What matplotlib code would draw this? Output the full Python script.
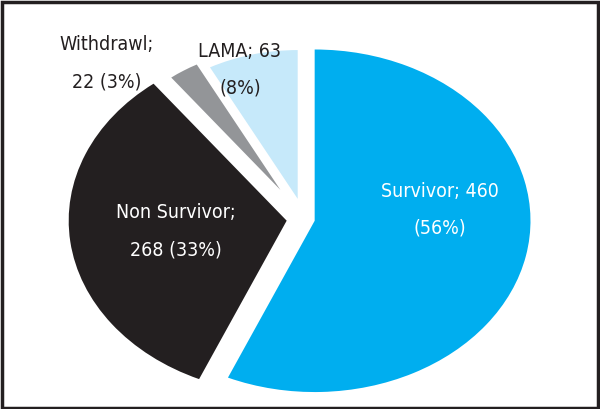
import matplotlib
matplotlib.use("Agg")
import matplotlib.pyplot as plt
from matplotlib.patches import Rectangle

categories = ["Survivor", "Non Survivor", "Withdrawl", "LAMA"]
counts = [460, 268, 22, 63]
percents = [56, 33, 3, 8]
label_texts = ["Survivor; 460\n(56%)", "Non Survivor;\n268 (33%)",
               "Withdrawl;\n22 (3%)", "LAMA; 63\n(8%)"]

colors = ["#00AEEF", "#231F20", "#939598", "#C6E9FA"]
explode = [0.05, 0.08, 0.20, 0.12]
radii = [0.99, 1.0, 0.82, 0.86]

plt.rcParams['font.family'] = ['DejaVu Sans']

W, H = 600, 409
fig = plt.figure(figsize=(W / 100, H / 100), dpi=100)
ax = fig.add_axes([0, 0, 1, 1])

wedges, _ = ax.pie(counts, colors=colors, explode=explode, startangle=90,
                   counterclock=False, radius=1.0,
                   wedgeprops=dict(linewidth=0))
for w, r in zip(wedges, radii):
    w.set_radius(r)
ax.set_aspect('auto')

cx, cy, rx, ry = 304, 219, 218, 173
ax.set_xlim(-cx / rx, (W - cx) / rx)
ax.set_ylim(-(H - cy) / ry, cy / ry)
ax.axis('off')

def px(x, y):
    return ((x - cx) / rx, (cy - y) / ry)

fs = 14
ls = 2.2
pos = [(440, 210), (176, 231), (107, 63), (240, 70)]
tcol = ["white", "white", "#231F20", "#231F20"]
for t, p, c in zip(label_texts, pos, tcol):
    x, y = px(*p)
    ax.text(x, y, t, ha='center', va='center', color=c, fontsize=fs,
            linespacing=ls, fontstretch='condensed')

fig.patches.append(Rectangle((1.5 / W, 1.5 / H), 1 - 3.5 / W, 1 - 3.5 / H,
                             transform=fig.transFigure, fill=False,
                             edgecolor="#231F20", linewidth=2.5))

fig.savefig("out.png", dpi=100)
